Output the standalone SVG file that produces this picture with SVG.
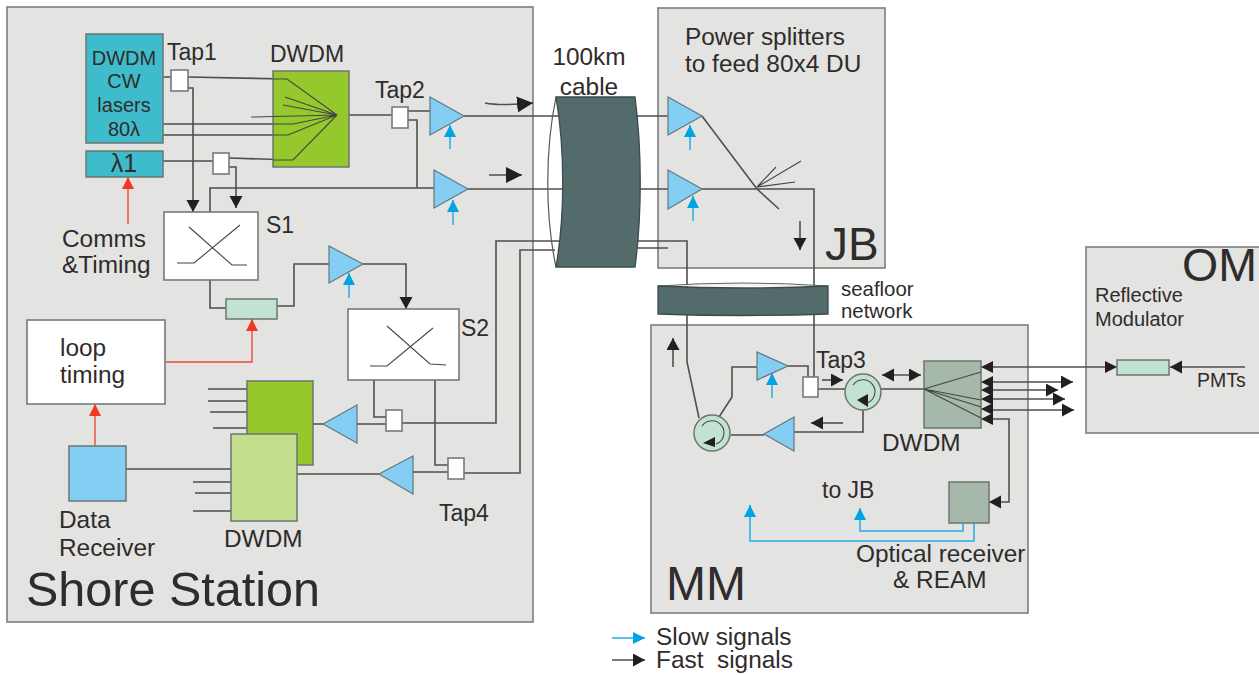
<svg xmlns="http://www.w3.org/2000/svg" width="1259" height="675" viewBox="0 0 1259 675">
<style>
text{font-family:"Liberation Sans",Arial,sans-serif;fill:#2f2c2b;font-size:23px}
.c{text-anchor:middle}
.big{font-size:48px}
.s20{font-size:20px}
.s24{font-size:24.4px}
.s205{font-size:20.4px}
.panel{fill:#e3e3e2;stroke:#7d7d7d;stroke-width:1.6}
.box{stroke:#6f7471;stroke-width:1.5}
.white{fill:#fff;stroke:#77797a;stroke-width:1.6}
.amp{fill:#85cef3;stroke:#62777f;stroke-width:1.2}
.teal{fill:#3fbccb}
.green{fill:#95c82c}
.lgreen{fill:#c3de8c}
.mint{fill:#c2e3d2}
.sage{fill:#a5b8a9}
.sky{fill:#85cef3}
.dark{fill:#546b6c;stroke:#3d4a4a;stroke-width:1.3}
.fine{fill:none;stroke:#474543;stroke-width:1.1}
.w{fill:none;stroke:#504f4d;stroke-width:1.6}
.bl{fill:none;stroke:#20ade6;stroke-width:1.5}
.rd{fill:none;stroke:#ee4a36;stroke-width:1.4}
.hd{marker-end:url(#ak)}
.hl{marker-end:url(#akl)}
.hb{marker-end:url(#ab)}
.hr{marker-end:url(#ar)}
.tri{fill:#231f20;stroke:none}
</style>
<defs>
<marker id="ak" markerUnits="userSpaceOnUse" markerWidth="14" markerHeight="14" refX="12" refY="6.5" orient="auto-start-reverse"><path d="M0,0L12,6.5L0,13Z" fill="#231f20"/></marker>
<marker id="akl" markerUnits="userSpaceOnUse" markerWidth="18" markerHeight="18" refX="16" refY="8" orient="auto"><path d="M0,0L16,8L0,16Z" fill="#231f20"/></marker>
<marker id="ab" markerUnits="userSpaceOnUse" markerWidth="14" markerHeight="14" refX="12" refY="6" orient="auto"><path d="M0,0L12,6L0,12Z" fill="#00a3e4"/></marker>
<marker id="ar" markerUnits="userSpaceOnUse" markerWidth="14" markerHeight="14" refX="12" refY="6" orient="auto"><path d="M0,0L12,6L0,12Z" fill="#ee3a24"/></marker>
</defs>

<g id="shore-station"><rect class="panel" x="7" y="7" width="526" height="615"/><text class="big" x="26" y="606" style="font-size:48.5px">Shore Station</text></g>
<g id="jb"><rect class="panel" x="658" y="8" width="227" height="260"/><text class="s24" x="685" y="45">Power splitters</text><text class="s24" x="685" y="72">to feed 80x4 DU</text><text x="825" y="260" style="font-size:46px">JB</text></g>
<g id="mm"><rect class="panel" x="651" y="325" width="377" height="288"/><text class="big" x="666" y="600">MM</text></g>
<g id="om"><rect class="panel" x="1086" y="247" width="180" height="186"/><text x="1182" y="281" style="font-size:46.5px">OM</text><text class="s20" x="1095" y="302">Reflective</text><text class="s20" x="1095" y="326">Modulator</text><text x="1197" y="387" style="font-size:19.5px">PMTs</text></g>

<g id="connectors">
<path class="w" d="M163,77H171M188,77L287,79"/>
<path class="w hd" d="M188,88H193V212"/>
<path class="w" d="M163,161H213M229,158L293,160"/>
<path class="w hd" d="M229,167H236V208"/>
<path class="w" d="M163,124H293M163,135H288"/>
<path class="w" d="M337,115H392M408,111H430M464,116H668M468,189H668"/>
<path class="w" d="M408,120H417V188M210,212V188H434"/>
<path class="w" d="M210,280V308H226M277,306H294V264H329"/>
<path class="w hd" d="M363,264H406V309"/>
<path class="w" d="M374,380V417H386M435,380V465H448M402,423H496V241H687V362L699,418"/>
<path class="w" d="M464,473H520V250H555M638,248H668"/>
<path class="w" d="M357,424H386M313,424H323M413,472H448M297,474H379"/>
<path class="w" d="M126,469H231M208,389H247M208,401H247M210,412H247M213,428H247M193,482H231M195,493H231M193,511H231"/>
<path class="w" d="M702,116L757,189L779,209M702,189H814V377"/>
<path class="w" d="M719,417L732,397V367H757M788,366H808V377M818,389H845M881,389H924M794,432H863V410M731,435H764"/>
<path class="w hd" d="M993,419H1009V502H989"/>
<path class="w" d="M1105,367H993"/>
<path class="w hd" d="M1245,367H1170"/>
<path class="w hd" d="M993,382H1073"/>
<path class="w hd" d="M993,390H1058"/>
<path class="w hd" d="M993,399H1065"/>
<path class="w hd" d="M993,410H1074"/>
<path class="w hl" d="M485,103Q500,106 533,103"/>
<path class="w hl" d="M489,175H522"/>
<path class="w hd" d="M800,221V250"/>
<path class="w hd" d="M843,423H811"/>
<path class="w hd" d="M822,380H843"/>
<path class="w hd" style="marker-start:url(#ak)" d="M882,375H921"/>
<path class="w hd" d="M673,367V338"/>
<path class="rd hr" d="M128,224V177"/>
<path class="rd hr" d="M165,362H252V319"/>
<path class="rd hr" d="M95,446V404"/>
<path class="bl hb" d="M450,149V125"/>
<path class="bl hb" d="M453,225V200"/>
<path class="bl hb" d="M349,298V273"/>
<path class="bl hb" d="M690,150V125"/>
<path class="bl hb" d="M693,221V196"/>
<path class="bl hb" d="M772,398V373"/>
<path class="bl hb" d="M963,523V531H860V508"/>
<path class="bl hb" d="M974,523V541H750V505"/>
<path class="bl hb" d="M612,638H645"/>
<path class="w hd" d="M612,660H645"/>
</g>

<g id="dwdm-lasers"><rect class="box teal" x="86" y="34" width="77" height="109"/><text class="c s20" x="124" y="65">DWDM</text><text class="c s20" x="124" y="88">CW</text><text class="c s20" x="124" y="112">lasers</text><text class="c s20" x="124" y="136">80λ</text></g>
<g id="lambda1"><rect class="box teal" x="86" y="151" width="77" height="26"/><text class="c" x="124" y="172" style="font-size:25px">λ1</text></g>
<g id="tap1"><rect class="white" x="171" y="70" width="17" height="21"/><text x="167" y="60">Tap1</text></g>
<g id="dwdm-tx"><rect class="box green" x="273" y="71" width="76" height="96"/>
<path class="fine" d="M273,79H287L337,115M285,97L337,115M283,105L337,115M251,117L337,115M273,124H293L337,115M273,135H288L337,115M273,160H293L337,115"/><text x="270" y="62">DWDM</text></g>
<g id="tap-lambda"><rect class="white" x="213" y="153" width="16" height="21"/></g>
<g id="tap2"><rect class="white" x="392" y="107" width="16" height="21"/><text x="375" y="98">Tap2</text></g>
<g id="amp-1"><path class="amp" d="M430,97V135L464,116Z"/></g>
<g id="amp-2"><path class="amp" d="M434,170V208L468,189Z"/></g>
<g id="comms-label"><text class="s24" x="62" y="247">Comms</text><text class="s24" x="62" y="273">&amp;Timing</text></g>
<g id="s1"><rect class="white" x="164" y="212" width="94" height="68"/><path class="fine" d="M177,263H194L240,225M189,227L232,265H247"/><text x="266" y="233">S1</text></g>
<g id="amp-3"><path class="amp" d="M329,246V283L363,264Z"/></g>
<g id="modulator-shore"><rect class="box mint" x="226" y="299" width="51" height="20"/></g>
<g id="s2"><rect class="white" x="348" y="309" width="111" height="71"/><path class="fine" d="M370,366H387L433,328M387,326L430,364L446,365"/><text x="461" y="336">S2</text></g>
<g id="loop-timing"><rect class="white" x="27" y="320" width="138" height="84"/><text class="s24" x="60" y="356">loop</text><text class="s24" x="60" y="383">timing</text></g>
<g id="dwdm-rx-1"><rect class="box green" x="247" y="381" width="66" height="84"/></g>
<g id="dwdm-rx-2"><rect class="box lgreen" x="231" y="434" width="66" height="87"/><text class="s24" x="224" y="547">DWDM</text></g>
<g id="amp-4"><path class="amp" d="M323,424L357,405V443Z"/></g>
<g id="tap-s2"><rect class="white" x="386" y="410" width="16" height="21"/></g>
<g id="amp-5"><path class="amp" d="M379,474L413,456V494Z"/></g>
<g id="tap4"><rect class="white" x="448" y="458" width="16" height="21"/><text x="439" y="521">Tap4</text></g>
<g id="data-receiver"><rect class="box sky" x="69" y="446" width="57" height="55"/><text class="s24" x="59" y="528">Data</text><text class="s24" x="59" y="556">Receiver</text></g>

<g id="cable"><path d="M556,97C545,150 545,215 556,267" fill="none" stroke="#55595a" stroke-width="1.2"/>
<path class="dark" d="M556,97H635C642,150 642,215 635,267H556C565,215 565,150 556,97Z"/>
<text class="c s24" x="589" y="65">100km</text><text class="c s24" x="589" y="95">cable</text></g>
<g id="amp-jb-1"><path class="amp" d="M668,97V135L702,116Z"/></g>
<g id="amp-jb-2"><path class="amp" d="M668,170V209L702,189Z"/></g>
<g id="splitter"><path class="fine" d="M757,187L801,161M757,187L776,167M757,187L795,182"/></g>
<g id="seafloor-network"><path d="M658,286Q743,280 828,286" fill="#f2f2f0" stroke="#5f6666" stroke-width="1"/><path class="dark" d="M658,286Q743,290 828,286V314Q743,317 658,314Z"/><text class="s205" x="841" y="296">seafloor</text><text class="s205" x="841" y="318">network</text></g>

<g id="amp-mm-1"><path class="amp" d="M757,352V380L788,366Z"/></g>
<g id="tap3"><rect class="white" x="803" y="377" width="15" height="20"/><text x="816" y="368">Tap3</text></g>
<g id="circulator-1"><circle class="box mint" cx="863" cy="392" r="18"/><path class="fine" d="M853,385A12,12 0 1 1 867,403"/><path class="tri" d="M857,400L868,394V407Z"/></g>
<g id="circulator-2"><circle class="box mint" cx="712" cy="433" r="18"/><path class="fine" d="M702,426A12,12 0 1 1 716,444"/><path class="tri" d="M703,443L715,437V447Z"/></g>
<g id="amp-mm-2"><path class="amp" d="M764,434L794,417V451Z"/></g>
<g id="dwdm-mm"><rect class="box sage" x="924" y="361" width="57" height="67"/><path class="fine" d="M924,389L981,372M924,389L981,400M924,389L981,407M924,389L981,418"/>
<path class="tri" d="M981,367L993,361V373ZM981,382L993,376V388ZM981,390L993,384V396ZM981,399L993,393V405ZM981,409L993,403V415ZM981,419L993,413V425Z"/><text class="s24" x="882" y="451">DWDM</text></g>
<g id="optical-receiver"><rect class="box sage" x="949" y="482" width="40" height="41"/><text class="s24" x="856" y="562">Optical receiver</text><text class="s24" x="893" y="588">&amp; REAM</text></g>
<g id="to-jb"><text x="822" y="498">to JB</text></g>
<g id="modulator-om"><rect class="box mint" x="1117" y="360" width="52" height="15"/><path class="tri" d="M1117,367L1105,361V373Z"/></g>
<g id="legend"><text class="s24" x="656" y="645">Slow signals</text><text class="s24" x="656" y="668" xml:space="preserve">Fast  signals</text></g>
</svg>
